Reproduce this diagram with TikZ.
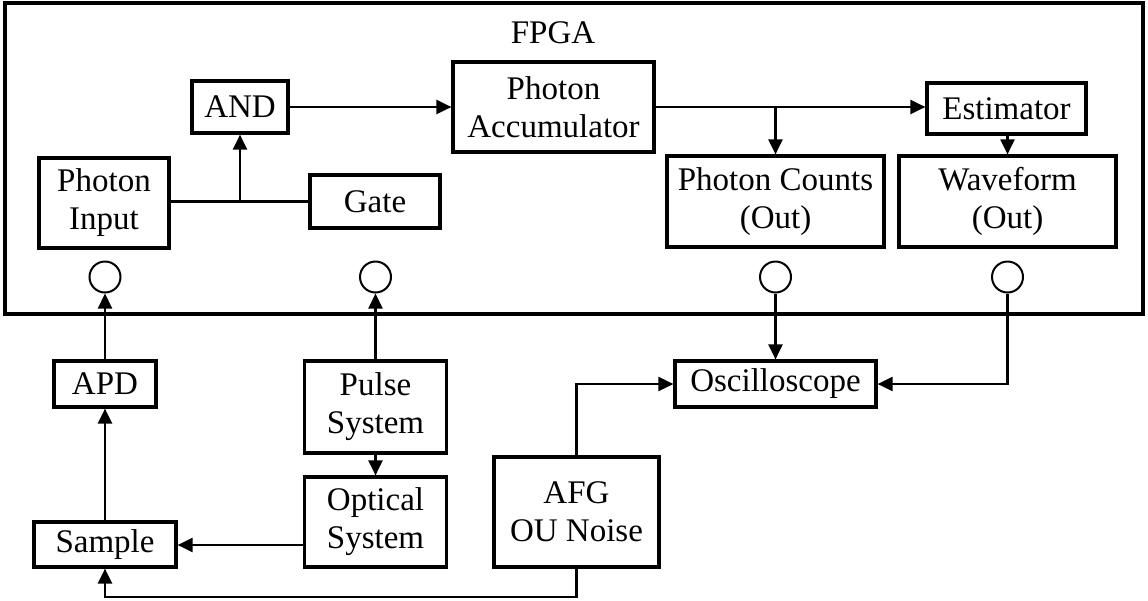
\documentclass[tikz,border=0pt]{standalone}
\usepackage{fontspec}
\setmainfont{Liberation Serif}
\usetikzlibrary{arrows.meta,calc}
\begin{document}
\begin{tikzpicture}[x=1pt,y=-1pt,
  box/.style={draw,line width=3.2pt,rectangle,inner sep=0pt,align=center,
    font=\fontsize{33}{38}\selectfont},
  port/.style={draw,line width=2pt,circle,minimum size=31pt,inner sep=0pt},
  wire/.style={line width=2.2pt},
  arr/.style={wire,-{Triangle[length=15pt,width=14pt]}},
]
\useasboundingbox (0,0) rectangle (1148,600);
% FPGA enclosure
\draw[line width=3.4pt] (5,3) rectangle (1143,314);
\node[font=\fontsize{33}{38}\selectfont] (fpga) at (553,33) {FPGA};

% blocks inside the FPGA
\node[box,minimum width=130pt,minimum height=90pt] (pin) at (104,203) {Photon\\Input};
\node[box,minimum width=96pt,minimum height=52pt] (and) at (240,107) {AND};
\node[box,minimum width=130pt,minimum height=53pt] (gate) at (375,201.5) {Gate};
\node[box,minimum width=201pt,minimum height=90pt] (acc) at (553.5,107) {Photon\\Accumulator};
\node[box,minimum width=159pt,minimum height=51pt] (est) at (1006.5,108.5) {Estimator};
\node[box,minimum width=217pt,minimum height=91pt] (cnt) at (775.5,201.5) {Photon Counts\\(Out)};
\node[box,minimum width=217pt,minimum height=91pt] (wf) at (1007.5,201.5) {Waveform\\(Out)};

% connectors on the enclosure edge
\node[port] (p1) at (105,277) {};
\node[port] (p2) at (375.5,277) {};
\node[port] (p3) at (775.5,277) {};
\node[port] (p4) at (1007.5,277) {};

% external instruments
\node[box,minimum width=102pt,minimum height=46pt] (apd) at (105,384) {APD};
\node[box,minimum width=142pt,minimum height=92pt] (pulse) at (375.5,407) {Pulse\\System};
\node[box,minimum width=142pt,minimum height=90pt] (opt) at (375.5,522) {Optical\\System};
\node[box,minimum width=142pt,minimum height=45pt] (smp) at (105,544.5) {\raisebox{-3pt}{Sample}};
\node[box,minimum width=165pt,minimum height=110pt] (afg) at (576.5,512) {AFG\\OU Noise};
\node[box,minimum width=201pt,minimum height=46pt] (osc) at (775.5,384) {Oscilloscope};
\coordinate (bot) at (0,597);

% signal paths inside the FPGA
\draw[wire] (pin.east |- gate.west) -- (gate.west);
\coordinate (j) at (and.south |- gate.west);
\draw[arr] (j) -- (and.south);
\draw[arr] (and.east) -- (acc.west |- and.east);
\draw[arr] (acc.east) -- (acc.east -| est.west);
\draw[arr] (acc.east -| cnt.north) -- (cnt.north);
\draw[arr] (est.south -| wf.north) -- (wf.north);

% external wiring
\draw[arr] (apd.north) -- (p1.south);
\draw[arr] (pulse.north) -- (p2.south);
\draw[arr] (smp.north) -- (apd.south);
\draw[arr] (pulse.south) -- (opt.north);
\draw[arr] (opt.west |- 0,545) -- (smp.east |- 0,545);
\draw[arr] (p3.south) -- (osc.north);
\draw[arr] (p4.south) -- (p4.south |- osc.east) -- (osc.east);
\draw[arr] (afg.north) -- (afg.north |- osc.west) -- (osc.west);
\draw[arr] (afg.south) -- (afg.south |- bot) -- (smp.south |- bot) -- (smp.south);
\end{tikzpicture}
\end{document}
